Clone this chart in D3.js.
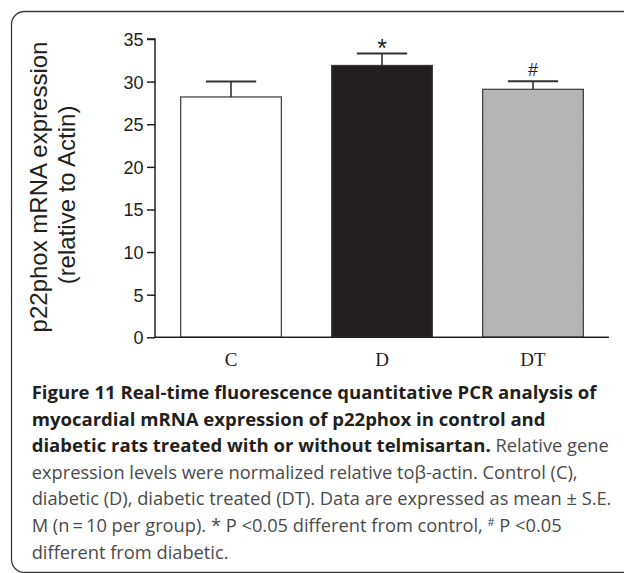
<!DOCTYPE html>
<html>
<head>
<meta charset="utf-8">
<script src="https://cdn.jsdelivr.net/npm/d3@7"></script>
<style>
  html, body { margin: 0; padding: 0; background: #fff; }
  svg { display: block; }
</style>
</head>
<body>
<svg id="chart" width="624" height="573"></svg>
<script>
// ---- data ----
const categories = ["C", "D", "DT"];
const means = [28.2, 31.9, 29.1];
const errors = [1.8, 1.4, 0.95];
const markers = ["", "*", "#"];
const yTicks = [0, 5, 10, 15, 20, 25, 30, 35];
const yTitle = ["p22phox mRNA expression", "(relative to Actin)"];
const captionLines = [
  [{b: true, t: "Figure 11 Real-time fluorescence quantitative PCR analysis of"}],
  [{b: true, t: "myocardial mRNA expression of p22phox in control and"}],
  [{b: true, t: "diabetic rats treated with or without telmisartan."}, {b: false, t: " Relative gene"}],
  [{b: false, t: "expression levels were normalized relative toβ-actin. Control (C),"}],
  [{b: false, t: "diabetic (D), diabetic treated (DT). Data are expressed as mean ± S.E."}],
  [{b: false, t: "M (n\u2009=\u200910 per group). * P <0.05 different from control, "}, {b: false, sup: true, t: "#"}, {b: false, t: " P <0.05"}],
  [{b: false, t: "different from diabetic."}]
];

const svg = d3.select("#chart");
const dark = "#231f20";

// frame
svg.append("rect")
  .attr("x", 11.5).attr("y", 11.5)
  .attr("width", 700).attr("height", 561)
  .attr("rx", 13).attr("ry", 13)
  .attr("fill", "none").attr("stroke", "#3a3a3a").attr("stroke-width", 1.3);

// hatch pattern for DT
const defs = svg.append("defs");
const pat = defs.append("pattern").attr("id", "hatch")
  .attr("patternUnits", "userSpaceOnUse").attr("width", 3).attr("height", 3);
pat.append("rect").attr("width", 3).attr("height", 3).attr("fill", "#bababa");
pat.append("path").attr("d", "M-1,1 l2,-2 M0,3 l3,-3 M2,4 l2,-2")
  .attr("stroke", "#a6a6a6").attr("stroke-width", 0.8);

// scales
const x = d3.scaleBand().domain(categories).range([155, 609]).paddingInner(1/3).paddingOuter(0.17);
const y = d3.scaleLinear().domain([0, 35]).range([337.3, 39]);

const fills = ["#ffffff", dark, "url(#hatch)"];

// bars
svg.append("g").selectAll("rect").data(categories).join("rect")
  .attr("x", d => x(d))
  .attr("y", (d, i) => y(means[i]))
  .attr("width", x.bandwidth())
  .attr("height", (d, i) => y(0) - y(means[i]))
  .attr("fill", (d, i) => fills[i])
  .attr("stroke", "#3a3a3a").attr("stroke-width", 1.2);

// error bars
const eg = svg.append("g");
categories.forEach((c, i) => {
  const cx = x(c) + x.bandwidth() / 2;
  eg.append("line").attr("x1", cx).attr("x2", cx)
    .attr("y1", y(means[i])).attr("y2", y(means[i] + errors[i]))
    .attr("stroke", "#333").attr("stroke-width", 1.6);
  eg.append("line").attr("x1", cx - x.bandwidth() / 4).attr("x2", cx + x.bandwidth() / 4)
    .attr("y1", y(means[i] + errors[i])).attr("y2", y(means[i] + errors[i]))
    .attr("stroke", "#333").attr("stroke-width", 2);
  if (markers[i]) {
    const star = markers[i] === "*";
    eg.append("text").attr("x", cx)
      .attr("y", y(means[i] + errors[i]) - (star ? -4 : 5))
      .attr("text-anchor", "middle")
      .attr("font-family", "Liberation Sans, Arial, sans-serif")
      .attr("font-size", star ? 25 : 18)
      .attr("fill", dark)
      .text(markers[i]);
  }
});

// y axis
const yAxis = d3.axisLeft(y).tickValues(yTicks).tickSize(8).tickPadding(3.5);
const yg = svg.append("g").attr("transform", "translate(155,0)").call(yAxis);
yg.select(".domain").attr("d", `M-8,${y(35)}H0V${y(0)}`).attr("stroke", dark).attr("stroke-width", 1.5);
yg.selectAll(".tick line").attr("stroke", dark).attr("stroke-width", 1.5);
yg.selectAll(".tick text").attr("font-family", "Liberation Sans, Arial, sans-serif")
  .attr("font-size", 18).attr("fill", dark).attr("dy", "0.36em");

// x axis
const xAxis = d3.axisBottom(x).tickSize(0).tickPadding(0);
const xg = svg.append("g").attr("transform", `translate(0,${y(0)})`).call(xAxis);
xg.select(".domain").attr("d", `M155,0H609`).attr("stroke", dark).attr("stroke-width", 1.5);
xg.selectAll(".tick text").attr("font-family", "Liberation Serif, Times New Roman, serif")
  .attr("font-size", 19).attr("fill", dark).attr("y", 0).attr("dy", 0)
  .attr("transform", "translate(0,28.4)");

// y title
const tg = svg.append("g").attr("font-family", "Liberation Sans, Arial, sans-serif")
  .attr("font-size", 24).attr("fill", dark).attr("text-anchor", "middle");
tg.append("text").attr("transform", "translate(47,187) rotate(-90)").text(yTitle[0]);
tg.append("text").attr("transform", "translate(75,195) rotate(-90)").text(yTitle[1]);

// caption
const cg = svg.append("g").attr("font-family", "Open Sans, sans-serif");
const capX = 31.7, capY0 = 399, capDY = 26.6;
let fs = 16;
captionLines.forEach((line, li) => {
  const t = cg.append("text").attr("x", capX).attr("y", capY0 + li * capDY).attr("font-size", fs);
  line.forEach(seg => {
    const ts = t.append("tspan").text(seg.t)
      .attr("class", seg.b ? "bold" : (seg.sup ? "sup" : "reg"))
      .attr("font-weight", seg.b ? 700 : 400)
      .attr("fill", seg.b ? dark : "#4a4a4a");
    if (seg.sup) ts.attr("dy", -6);
    else if (li === 5 && seg.t.startsWith(" P")) ts.attr("dy", 6);
  });
});
// fit font size so the widest regular line ends where the reference does
const texts = cg.selectAll("text").nodes();
const scale = (612 - capX) / texts[4].getComputedTextLength();
const regFs = fs * scale;
cg.selectAll("text").attr("font-size", regFs);
cg.selectAll("tspan.sup").attr("font-size", regFs * 0.6);
cg.selectAll("tspan.bold").attr("font-size", regFs * 1.015);
</script>
</body>
</html>
